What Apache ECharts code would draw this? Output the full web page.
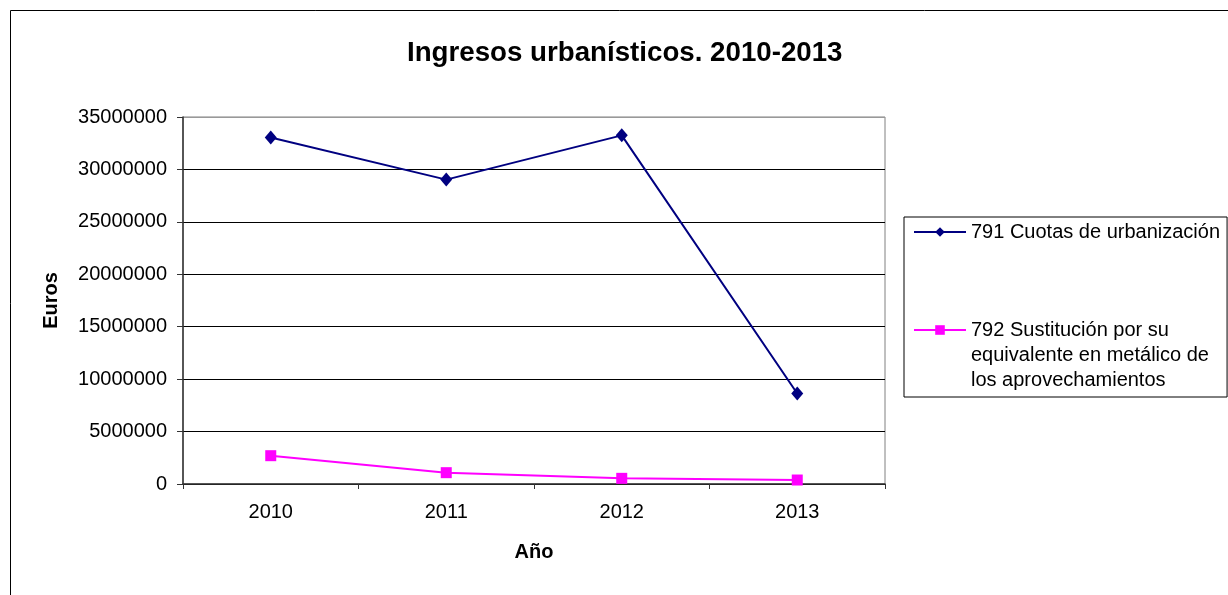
<!DOCTYPE html>
<html>
<head>
<meta charset="utf-8">
<script src="https://cdn.jsdelivr.net/npm/echarts@6/dist/echarts.min.js"></script>
<style>
html,body{margin:0;padding:0;background:#fff;}
#chart{width:1228px;height:595px;}
</style>
</head>
<body>
<div id="chart"></div>
<script>
const titleText = 'Ingresos urbanísticos. 2010-2013';
const categories = ['2010', '2011', '2012', '2013'];
const seriesNames = ['791 Cuotas de urbanización', '792 Sustitución por su equivalente en metálico de los aprovechamientos'];
const legendLabels = ['791 Cuotas de urbanización', '792 Sustitución por su\nequivalente en metálico de\nlos aprovechamientos'];
const cuotas = [33050000, 29030000, 33250000, 8630000];
const sustitucion = [2700000, 1080000, 540000, 380000];
const yTicks = [0, 5000000, 10000000, 15000000, 20000000, 25000000, 30000000, 35000000];

const FONT = '"Liberation Sans", Arial, sans-serif';
const chart = echarts.init(document.getElementById('chart'), null, {renderer: 'canvas'});

chart.setOption({
  backgroundColor: '#fff',
  animation: false,
  title: {
    text: titleText,
    left: 407,
    top: 39,
    padding: 0,
    textStyle: {fontFamily: FONT, fontSize: 27.7, fontWeight: 'bold', color: '#000'}
  },
  graphic: [{
    type: 'rect',
    shape: {x: 10.5, y: 10.5, width: 1240, height: 620},
    style: {fill: 'none', stroke: '#000', lineWidth: 1},
    silent: true,
    z: -1
  }],
  legend: {
    orient: 'vertical',
    left: 904,
    top: 217,
    padding: [2.5, 7, 4.5, 9],
    itemGap: 23,
    itemWidth: 52,
    itemHeight: 12,
    borderColor: '#000',
    borderWidth: 1,
    borderRadius: 0,
    backgroundColor: '#fff',
    data: seriesNames,
    formatter: function (name) {
      const i = seriesNames.indexOf(name);
      return i === 1 ? '\n\n' + legendLabels[i] : legendLabels[i];
    },
    textStyle: {fontFamily: FONT, fontSize: 20, lineHeight: 25, color: '#000'}
  },
  grid: {
    left: 183, right: 343, top: 117, bottom: 111,
    show: true, borderColor: '#808080', borderWidth: 1, backgroundColor: '#fff'
  },
  xAxis: {
    type: 'category',
    data: categories,
    boundaryGap: true,
    name: 'Año',
    nameLocation: 'middle',
    nameGap: 58,
    nameTextStyle: {fontFamily: FONT, fontSize: 20, fontWeight: 'bold', color: '#000'},
    axisLine: {show: true, lineStyle: {color: '#333', width: 1.5}},
    axisTick: {show: true, length: 5, inside: false, alignWithLabel: false, lineStyle: {color: '#333'}},
    axisLabel: {fontFamily: FONT, fontSize: 20, color: '#000', margin: 18},
    splitLine: {show: false}
  },
  yAxis: {
    type: 'value',
    min: 0,
    max: 35000000,
    interval: 5000000,
    name: 'Euros',
    nameLocation: 'middle',
    nameGap: 122,
    nameRotate: 90,
    nameTextStyle: {fontFamily: FONT, fontSize: 20, fontWeight: 'bold', color: '#000'},
    axisLine: {show: true, lineStyle: {color: '#333', width: 1.5}},
    axisTick: {show: true, length: 6, inside: false, lineStyle: {color: '#333'}},
    axisLabel: {
      fontFamily: FONT, fontSize: 20, color: '#000', margin: 16,
      formatter: function (v) { return yTicks.indexOf(v) >= 0 ? String(v) : ''; }
    },
    splitLine: {show: true, lineStyle: {color: ['#000', '#000', '#000', '#000', '#000', '#000', '#000', '#999'], width: 1}}
  },
  series: [
    {
      name: seriesNames[0],
      type: 'line',
      data: cuotas,
      symbol: 'diamond',
      symbolSize: [12, 14],
      showAllSymbol: true,
      lineStyle: {color: '#000080', width: 2},
      itemStyle: {color: '#000080'},
      z: 3
    },
    {
      name: seriesNames[1],
      type: 'line',
      data: sustitucion,
      symbol: 'rect',
      symbolSize: 11,
      showAllSymbol: true,
      lineStyle: {color: '#FF00FF', width: 2},
      itemStyle: {color: '#FF00FF'},
      z: 3
    }
  ]
});
</script>
</body>
</html>
